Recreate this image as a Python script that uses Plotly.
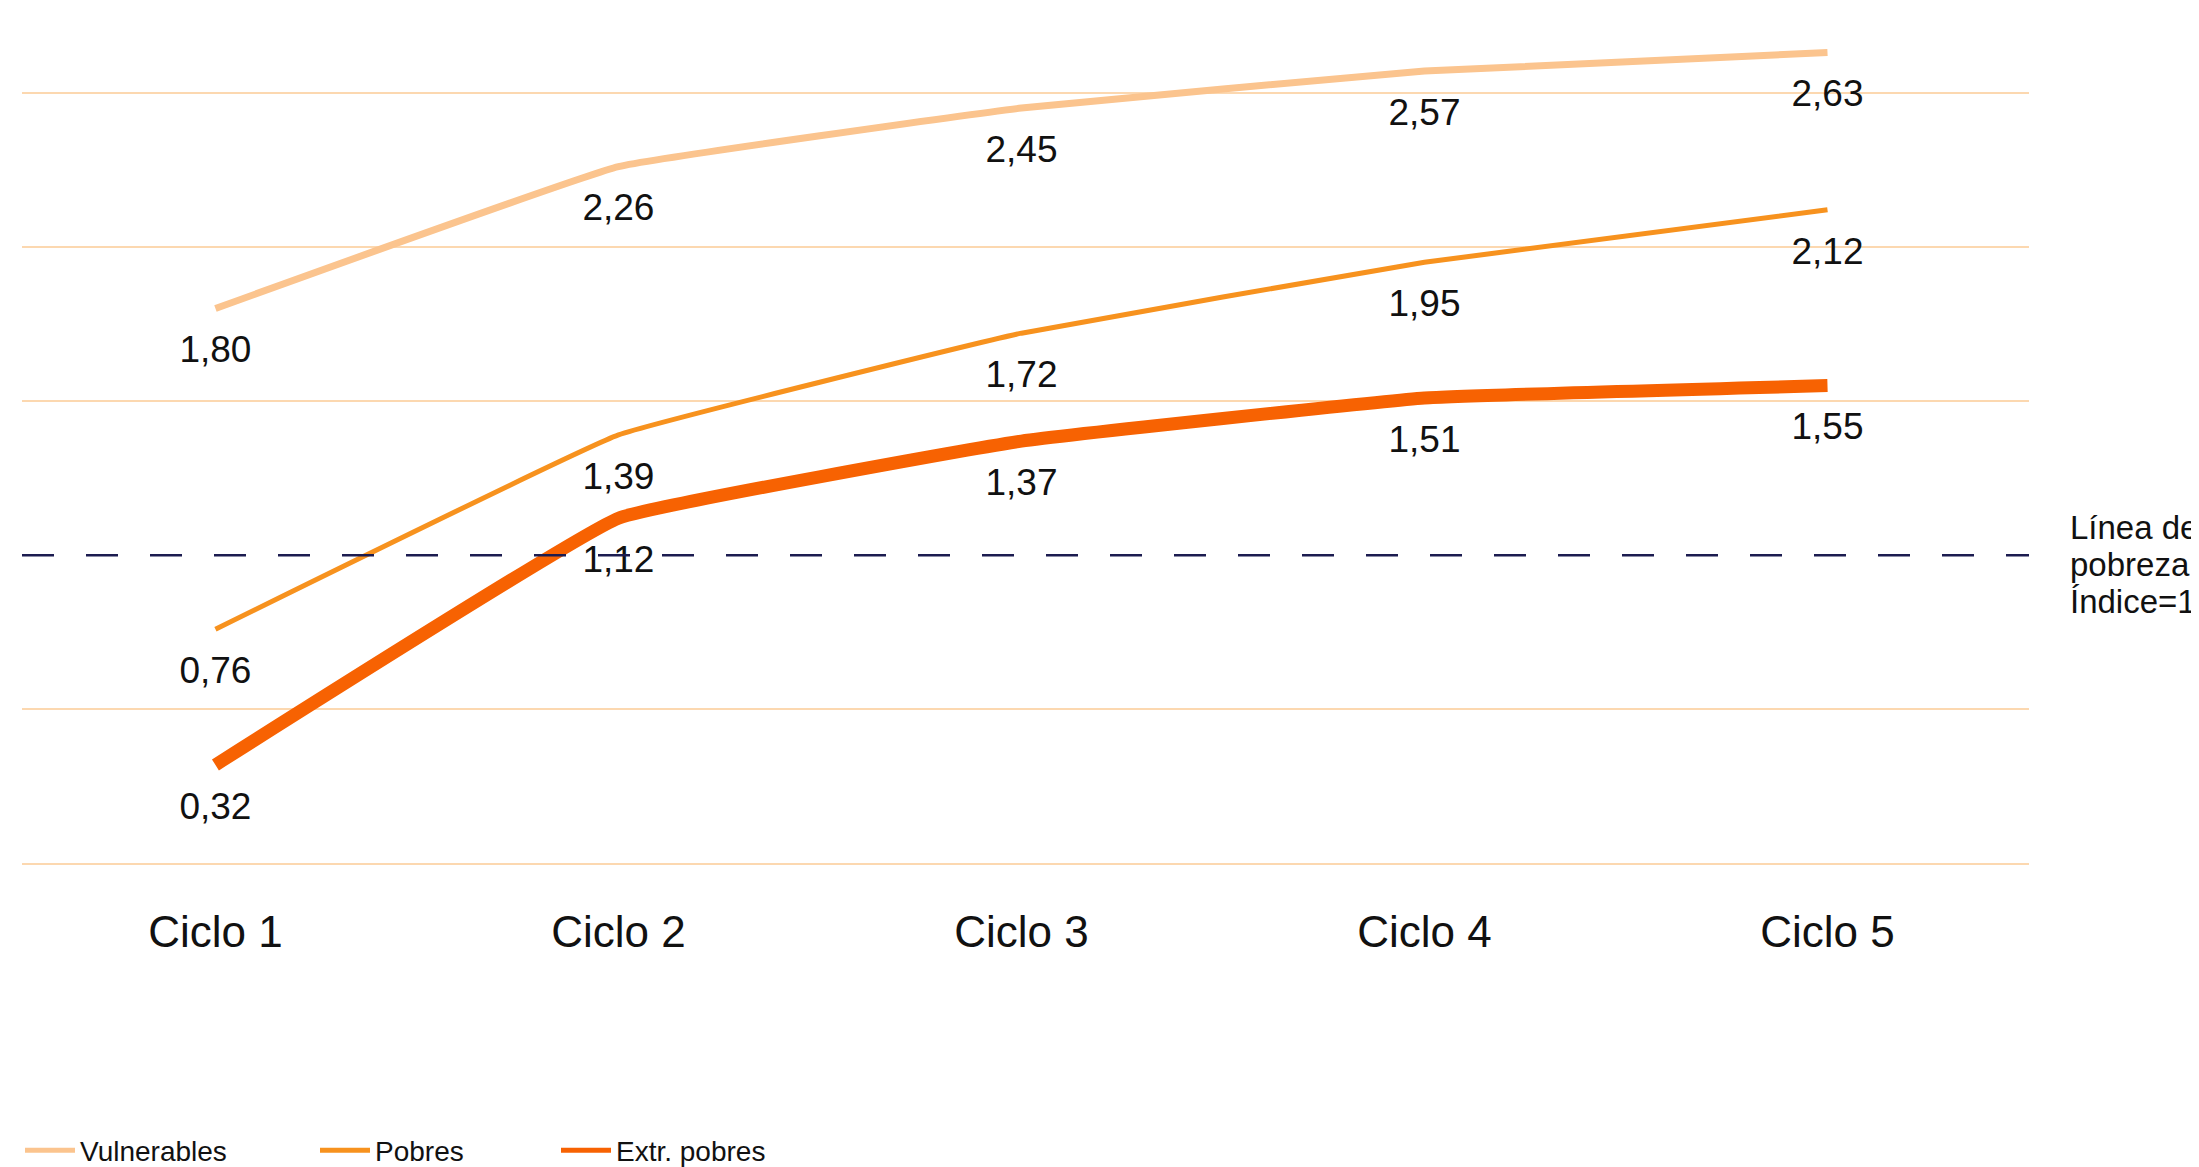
import plotly.graph_objects as go

# datos
ciclos = ['Ciclo 1', 'Ciclo 2', 'Ciclo 3', 'Ciclo 4', 'Ciclo 5']
vulnerables = [1.80, 2.26, 2.45, 2.57, 2.63]
pobres = [0.76, 1.39, 1.72, 1.95, 2.12]
extr_pobres = [0.32, 1.12, 1.37, 1.51, 1.55]
linea_pobreza = 1
texto_linea = ['Línea de', 'pobreza', 'Índice=1']

FONT = 'Liberation Sans, Arial, sans-serif'
colores = ['#FBC48E', '#F7921E', '#F76202']
anchos = [7, 5, 13]
nombres = ['Vulnerables', 'Pobres', 'Extr. pobres']
series = [vulnerables, pobres, extr_pobres]


def fmt(v):
    return f'{v:.2f}'.replace('.', ',')


fig = go.Figure()

for serie, color, ancho in zip(series, colores, anchos):
    fig.add_trace(go.Scatter(
        x=ciclos,
        y=serie,
        mode='lines+markers+text',
        line=dict(color=color, width=ancho, shape='spline', smoothing=0.25),
        marker=dict(size=40, opacity=0),
        text=[fmt(v) for v in serie],
        textposition='bottom center',
        textfont=dict(family=FONT, size=37, color='#111111'),
        showlegend=False,
        hoverinfo='skip',
    ))

# entradas de leyenda (lineas finas iguales)
leyendas = ['legend', 'legend2', 'legend3']
for nombre, color, ley in zip(nombres, colores, leyendas):
    fig.add_trace(go.Scatter(
        x=[None], y=[None], mode='lines', name=nombre,
        line=dict(color=color, width=5),
        legend=ley,
    ))

fig.add_hline(y=linea_pobreza, line=dict(color='#1C1C50', width=2.5, dash='32px,32px'))

# texto de la linea de pobreza, una linea por anotacion (interlineado mas cerrado)
for i, t in enumerate(texto_linea):
    fig.add_annotation(
        text=t,
        xref='paper', x=1, xanchor='left', xshift=39,
        yref='y', y=linea_pobreza, yanchor='middle', yshift=28 - 37 * i,
        align='left', showarrow=False,
        font=dict(family=FONT, size=33, color='#111111'),
    )

leg = dict(orientation='h', xref='container', yref='container', yanchor='middle',
           y=0.021, itemwidth=50, bgcolor='rgba(0,0,0,0)',
           font=dict(family=FONT, size=28, color='#111111'))

fig.update_layout(
    width=2199, height=1167,
    margin=dict(l=14, r=178, t=2, b=296),
    plot_bgcolor='white', paper_bgcolor='white',
    font=dict(family=FONT, color='#111111'),
    legend=dict(leg, x=12 / 2199),
    legend2=dict(leg, x=307 / 2199),
    legend3=dict(leg, x=548 / 2199),
    xaxis=dict(
        range=[-0.48, 4.5],
        showgrid=False, zeroline=False, showline=False,
        ticks='', ticklabelstandoff=23,
        tickfont=dict(family=FONT, size=44, color='#111111'),
    ),
    yaxis=dict(
        range=[-0.05, 2.768],
        tickvals=[0, 0.5, 1.5, 2, 2.5],
        showticklabels=False,
        showgrid=True, gridcolor='#FCD8B0', gridwidth=2,
        zeroline=False, showline=False,
    ),
)

fig.write_html('out.html')
